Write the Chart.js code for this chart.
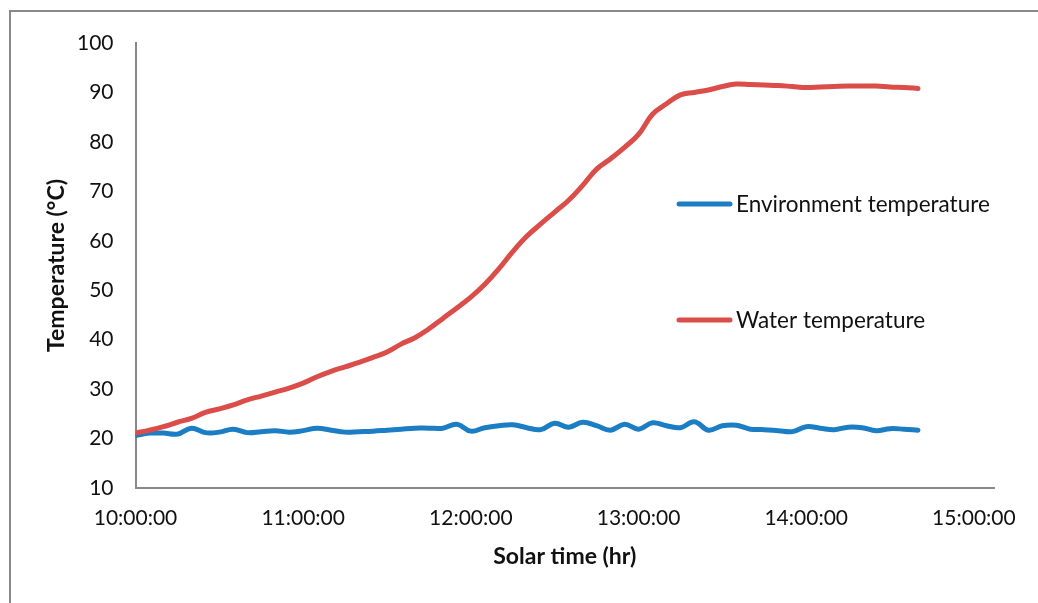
<!DOCTYPE html>
<html>
<head>
<meta charset="utf-8">
<script src="https://cdn.jsdelivr.net/npm/chart.js@4/dist/chart.umd.min.js"></script>
<style>
  html, body { margin: 0; padding: 0; background: #fff; overflow: hidden; }
  #wrap { position: relative; width: 1038px; height: 603px; }
  canvas { display: block; }
</style>
</head>
<body>
<div id="wrap"><canvas id="c" width="1038" height="603"></canvas></div>
<script>
// ---- Data ----
const times = [
  '10:00','10:05','10:10','10:15','10:20','10:25','10:30','10:35','10:40','10:45','10:50','10:55',
  '11:00','11:05','11:10','11:15','11:20','11:25','11:30','11:35','11:40','11:45','11:50','11:55',
  '12:00','12:05','12:10','12:15','12:20','12:25','12:30','12:35','12:40','12:45','12:50','12:55',
  '13:00','13:05','13:10','13:15','13:20','13:25','13:30','13:35','13:40','13:45','13:50','13:55',
  '14:00','14:05','14:10','14:15','14:20','14:25','14:30','14:35','14:40'
];
const environmentTemp = [
  20.6,21.1,21.1,20.9,22.1,21.2,21.3,21.9,21.2,21.4,21.6,21.3,
  21.6,22.1,21.7,21.3,21.4,21.5,21.7,21.9,22.1,22.1,22.1,22.9,
  21.5,22.2,22.6,22.8,22.2,21.8,23.1,22.3,23.3,22.6,21.7,22.9,
  21.9,23.2,22.6,22.2,23.4,21.7,22.6,22.7,21.9,21.8,21.6,21.4,
  22.4,22.1,21.8,22.3,22.2,21.6,22.0,21.9,21.7
];
const waterTemp = [
  21.1,21.7,22.4,23.3,24.1,25.3,26.0,26.8,27.8,28.6,29.4,30.2,
  31.2,32.5,33.6,34.5,35.4,36.4,37.5,39.1,40.4,42.2,44.3,46.4,
  48.6,51.2,54.3,57.8,60.9,63.4,65.8,68.2,71.2,74.5,76.6,78.9,
  81.5,85.6,87.7,89.5,90.0,90.5,91.2,91.7,91.6,91.5,91.4,91.2,
  91.0,91.1,91.2,91.3,91.3,91.3,91.1,91.0,90.8
];
const seriesNames = ['Environment temperature', 'Water temperature'];
const xTickLabels = ['10:00:00','11:00:00','12:00:00','13:00:00','14:00:00','15:00:00'];
const yTicks = [10,20,30,40,50,60,70,80,90,100];
const xTitle = 'Solar time (hr)';
const yTitle = 'Temperature (\u00B0C)';

// ---- helpers ----
function toMinutes(s) { const [h, m] = s.split(':').map(Number); return (h - 10) * 60 + m; }
const xTickValues = xTickLabels.map(toMinutes);
const pts = arr => arr.map((v, i) => ({ x: toMinutes(times[i]), y: v }));

const BLUE = '#1b7dc3';
const RED = '#db4d49';
const AXIS = '#898989';
const FONT = 'Lato, "Open Sans", sans-serif';

const framePlugin = {
  id: 'frame',
  beforeDraw(chart) {
    const ctx = chart.ctx;
    ctx.save();
    ctx.fillStyle = '#fff';
    ctx.fillRect(0, 0, chart.width, chart.height);
    ctx.strokeStyle = AXIS;
    ctx.lineWidth = 2;
    ctx.strokeRect(10, 11, 1200, 800);
    ctx.restore();
  }
};

const legendPlugin = {
  id: 'sideLegend',
  afterDraw(chart) {
    const ctx = chart.ctx;
    const rows = [204, 320];
    ctx.save();
    chart.data.datasets.forEach((ds, i) => {
      const y = rows[i];
      ctx.strokeStyle = ds.borderColor;
      ctx.lineWidth = 5;
      ctx.lineCap = 'round';
      ctx.beginPath();
      ctx.moveTo(679, y);
      ctx.lineTo(730, y);
      ctx.stroke();
      ctx.fillStyle = '#111';
      ctx.font = '22.5px ' + FONT;
      ctx.textAlign = 'left';
      ctx.textBaseline = 'middle';
      ctx.fillText(ds.label, 736, y + 1);
    });
    ctx.restore();
  }
};

new Chart(document.getElementById('c'), {
  type: 'line',
  data: {
    datasets: [
      { label: seriesNames[0], data: pts(environmentTemp), borderColor: BLUE, backgroundColor: BLUE, order: 1 },
      { label: seriesNames[1], data: pts(waterTemp), borderColor: RED, backgroundColor: RED, order: 0 }
    ]
  },
  options: {
    responsive: false,
    animation: false,
    devicePixelRatio: 1,
    layout: { padding: { left: 0, top: 43, right: 44, bottom: 0 } },
    elements: {
      point: { radius: 0, hoverRadius: 0 },
      line: { borderWidth: 5, tension: 0.4, borderCapStyle: 'round', borderJoinStyle: 'round', fill: false }
    },
    plugins: { legend: { display: false }, tooltip: { enabled: false }, title: { display: false } },
    scales: {
      x: {
        type: 'linear',
        min: 0,
        max: 307.2,
        grid: { display: false, drawTicks: false },
        border: { display: true, color: AXIS, width: 2 },
        afterBuildTicks(scale) { scale.ticks = xTickValues.map(v => ({ value: v })); },
        afterFit(scale) { scale.height = 115; },
        ticks: {
          autoSkip: false,
          maxRotation: 0,
          includeBounds: false,
          padding: 18,
          color: '#111',
          font: { family: FONT, size: 21 },
          callback(value) { const i = xTickValues.indexOf(value); return i >= 0 ? xTickLabels[i] : ''; }
        },
        title: {
          display: true, text: xTitle, color: '#111',
          font: { family: FONT, size: 23, weight: 'bold' },
          padding: { top: 0, bottom: 33 }
        }
      },
      y: {
        type: 'linear',
        min: 10,
        max: 100,
        grid: { display: false, drawTicks: false },
        border: { display: true, color: AXIS, width: 2 },
        afterBuildTicks(scale) { scale.ticks = yTicks.map(v => ({ value: v })); },
        afterFit(scale) { scale.width = 135.5; },
        ticks: {
          padding: 22,
          color: '#111',
          font: { family: FONT, size: 21 }
        },
        title: {
          display: true, text: yTitle, color: '#111',
          font: { family: FONT, size: 23, weight: 'bold' },
          padding: { top: 43, bottom: 0 }
        }
      }
    }
  },
  plugins: [framePlugin, legendPlugin]
});
</script>
</body>
</html>
